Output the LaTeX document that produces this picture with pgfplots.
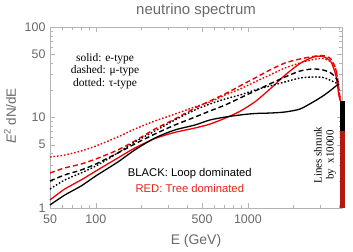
\documentclass[border=0pt]{standalone}
\usepackage{fontspec}
\setmainfont{Liberation Serif}
\setsansfont{Liberation Sans}
\usepackage{pgfplots}
\pgfplotsset{compat=1.18}
\definecolor{tgray}{RGB}{105,105,105}
\definecolor{fgray}{RGB}{180,180,180}
\definecolor{lred}{RGB}{240,0,0}
\definecolor{bred}{RGB}{180,25,15}
\definecolor{tred}{RGB}{225,35,25}

\pgfplotstableread{
E V
50 3.66
62.5 3.85
80 4.26
100 4.84
139.5 6.09
180.5 7.46
244.5 9.15
331 10.9
448 13.1
562 14.8
706 17.7
886 20.6
1112 24.7
1395 29.5
1751 35.2
2198 40.0
2677 43.7
3115 44.9
3517 41.1
3793 33.5
3970 20.1
4062 15.2
}\reddot
\pgfplotstableread{
E V
50 2.44
62.5 2.77
80 3.06
100 3.48
139.5 4.38
180.5 5.50
244.5 7.46
331 9.63
448 12.7
562 15.2
706 18.2
886 22.3
1112 27.3
1395 33.5
1751 40.0
2198 44.3
2677 47.2
3115 48.4
3517 44.3
3793 33.5
3970 20.1
4062 15.2
}\reddash
\pgfplotstableread{
E V
50 1.23
62.5 1.62
80 2.04
100 2.56
139.5 3.57
180.5 4.60
244.5 5.85
331 6.85
448 7.65
562 8.45
706 9.8
886 11.7
1112 14.9
1395 20.6
1751 29.3
2198 39.5
2677 46.4
3115 47.2
3517 41.1
3793 28.7
3970 17.3
4062 15.2
}\redsolid
\pgfplotstableread{
E V
50 1.99
62.5 2.32
80 2.63
100 3.06
139.5 4.05
180.5 5.10
244.5 6.57
331 8.26
448 10.1
562 11.8
706 13.7
886 16.4
1112 19.6
1395 23.5
1751 28.0
2198 32.6
2677 34.4
3115 33.5
3517 31.0
3793 27.3
3970 23.5
}\blackdash
\pgfplotstableread{
E V
50 1.62
62.5 2.04
80 2.44
100 2.91
139.5 4.05
180.5 5.36
244.5 7.09
331 9.38
448 12.1
562 14.1
706 16.0
886 17.7
1112 20.1
1395 22.3
1751 24.7
2198 27.3
2677 28.0
3115 27.7
3517 25.6
3793 24.1
3970 22.9
}\blackdot
\pgfplotstableread{
E V
50 1.08
62.5 1.39
80 1.75
100 2.26
139.5 3.22
180.5 4.38
244.5 5.93
331 7.28
448 8.26
562 9.38
706 10.1
886 10.66
1112 11.07
1395 11.2
1751 11.5
2198 12.4
2677 14.8
3115 17.3
3517 20.1
3793 22.3
3970 23.5
}\blacksolid

\begin{document}
\begin{tikzpicture}
\useasboundingbox (0bp,0bp) rectangle (353bp,-252bp);
\begin{axis}[
  at={(50bp,-208bp)}, anchor=south west,
  scale only axis, width=292bp, height=181bp,
  xmode=log, ymode=log,
  xmin=50, xmax=4155, ymin=1, ymax=100,
  xtick={50,100,500,1000}, xticklabels={50,100,500,1000},
  ytick={1,5,10,50,100}, yticklabels={1,5,10,50,100},
  minor xtick={60,70,80,90,200,300,400,600,700,800,900,2000,3000,4000},
  minor ytick={2,3,4,6,7,8,9,20,30,40,60,70,80,90},
  tick align=inside,
  major tick length=5bp, minor tick length=3bp,
  axis line style={fgray}, every tick/.style={fgray},
  tick label style={font=\sffamily\fontsize{12.5}{12.5}\selectfont, text=tgray},
  xticklabel style={yshift=-3bp},
  yticklabel style={xshift=-1bp},
  /pgf/number format/assume math mode=true,
  clip=false,
  line join=round,
  every axis plot/.append style={smooth, tension=0.45},
]
\addplot[lred, line width=1.4bp, dash pattern=on 1.6bp off 1.9bp] table {\reddot};
\addplot[lred, line width=1.4bp, dash pattern=on 5bp off 3bp] table {\reddash};
\addplot[lred, line width=1.3bp] table {\redsolid};
\addplot[black, line width=1.4bp, dash pattern=on 1.6bp off 1.9bp] table {\blackdot};
\addplot[black, line width=1.4bp, dash pattern=on 5bp off 3bp] table {\blackdash};
\addplot[black, line width=1.3bp] table {\blacksolid};
\addplot[black, line width=5bp, sharp plot] coordinates {(4155,1) (4155,15.2)};
\addplot[bred, line width=5bp, sharp plot] coordinates {(4155,1) (4155,7.1)};
\node[align=center, font=\fontsize{11.5}{12.3}\selectfont] at (axis cs:115,32.6) {solid: e-type\\dashed: μ-type\\dotted: τ-type};
\node[font=\sffamily\fontsize{11.3}{12}\selectfont] at (axis cs:415,2.37) {BLACK: Loop dominated};
\node[font=\sffamily\fontsize{11.3}{12}\selectfont, text=tred] at (axis cs:415,1.66) {RED: Tree dominated};
\node[rotate=90, align=center, font=\fontsize{11}{12}\selectfont] at (axis cs:3212,3.85) {Lines shrunk\\by\ \ x10000};
\end{axis}
\node[font=\sffamily\fontsize{15}{15}\selectfont, text=tgray] at (196bp,-10.5bp) {neutrino spectrum};
\node[font=\sffamily\fontsize{14}{14}\selectfont, text=tgray] at (196bp,-241bp) {E (GeV)};
\node[rotate=90, font=\sffamily\fontsize{13.5}{14}\selectfont, text=tgray] at (10bp,-116bp) {\textit{E}\textsuperscript{2} dN/dE};
\end{tikzpicture}
\end{document}
